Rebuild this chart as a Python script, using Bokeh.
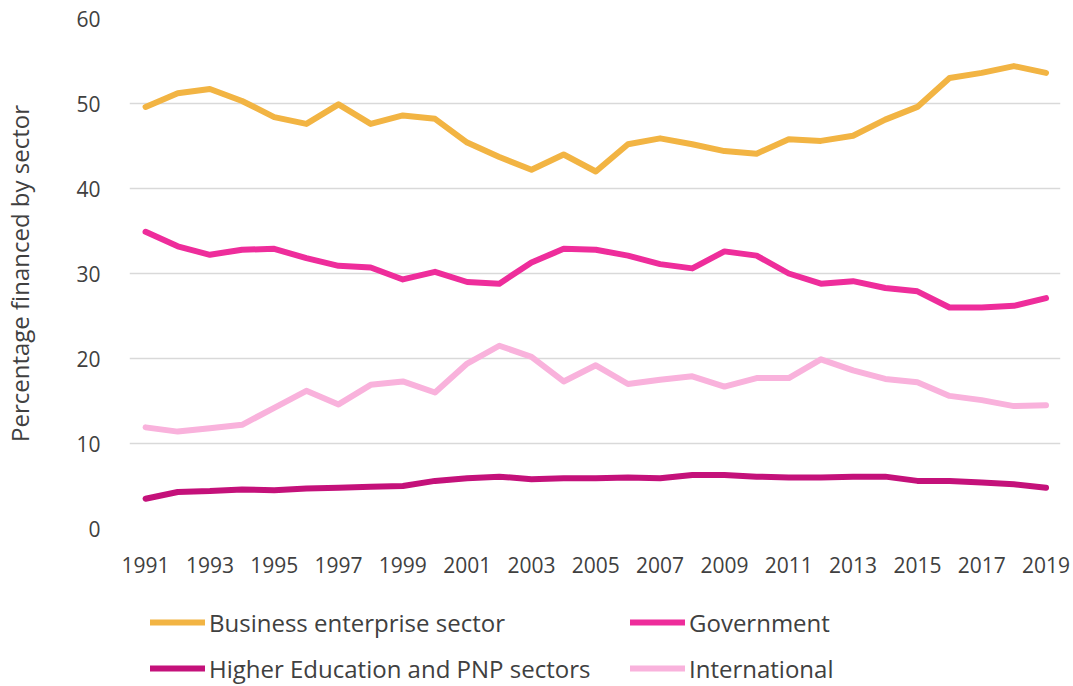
from bokeh.plotting import figure
from bokeh.models import Legend, LegendItem, FixedTicker, Range1d
from bokeh.layouts import column
from bokeh.embed import file_html
from bokeh.resources import INLINE

years = list(range(1991, 2020))
business = [49.6, 51.2, 51.7, 50.3, 48.4, 47.6, 49.9, 47.6, 48.6, 48.2, 45.4, 43.7, 42.2, 44.0, 42.0,
            45.2, 45.9, 45.2, 44.4, 44.1, 45.8, 45.6, 46.2, 48.1, 49.6, 53.0, 53.6, 54.4, 53.6]
government = [34.9, 33.2, 32.2, 32.8, 32.9, 31.8, 30.9, 30.7, 29.3, 30.2, 29.0, 28.8, 31.3, 32.9, 32.8,
              32.1, 31.1, 30.6, 32.6, 32.1, 30.0, 28.8, 29.1, 28.3, 27.9, 26.0, 26.0, 26.2, 27.1]
higher_ed = [3.5, 4.3, 4.4, 4.6, 4.5, 4.7, 4.8, 4.9, 5.0, 5.6, 5.9, 6.1, 5.8, 5.9, 5.9,
             6.0, 5.9, 6.3, 6.3, 6.1, 6.0, 6.0, 6.1, 6.1, 5.6, 5.6, 5.4, 5.2, 4.8]
international = [11.9, 11.4, 11.8, 12.2, 14.2, 16.2, 14.6, 16.9, 17.3, 16.0, 19.4, 21.5, 20.2, 17.3, 19.2,
                 17.0, 17.5, 17.9, 16.7, 17.7, 17.7, 19.9, 18.6, 17.6, 17.2, 15.6, 15.1, 14.4, 14.5]
x_ticks = list(range(1991, 2020, 2))
y_ticks = [0, 10, 20, 30, 40, 50, 60]
series_names = ["Business enterprise sector", "Government", "Higher Education and PNP sectors", "International"]
colors = ["#F2B443", "#EE2D9B", "#C4117A", "#F9B2DC"]
series = [business, government, higher_ed, international]

FONT = "Open Sans"
TXT = "#404040"

p = figure(width=1073, height=590, output_backend="svg", toolbar_location=None,
           x_range=Range1d(1990.5, 2019.45), y_range=Range1d(0, 60),
           min_border_left=129, min_border_right=13, min_border_top=18, min_border_bottom=62)
p.outline_line_color = None
p.background_fill_color = "white"

for ys, c in zip(series, colors):
    p.line(years, ys, line_color=c, line_width=6, line_cap="round", line_join="round")

p.xaxis.ticker = FixedTicker(ticks=x_ticks)
p.yaxis.ticker = FixedTicker(ticks=y_ticks)
for ax in (p.xaxis[0], p.yaxis[0]):
    ax.axis_line_color = None
    ax.major_tick_line_color = None
    ax.minor_tick_line_color = None
    ax.major_label_text_font = FONT
    ax.major_label_text_font_size = "21px"
    ax.major_label_text_color = TXT
p.xaxis.major_label_standoff = 22
p.yaxis.major_label_standoff = 23
p.yaxis.axis_label = "Percentage financed by sector"
p.yaxis.axis_label_text_font = FONT
p.yaxis.axis_label_text_font_size = "24px"
p.yaxis.axis_label_text_font_style = "normal"
p.yaxis.axis_label_text_color = TXT
p.yaxis.axis_label_standoff = 37

p.xgrid.grid_line_color = None
p.ygrid.grid_line_color = "#D9D9D9"
p.ygrid.grid_line_width = 1.5

# legend panel (series drawn off-view so only the legend shows)
lg = figure(width=1073, height=96, output_backend="svg", toolbar_location=None,
            x_range=Range1d(0, 1), y_range=Range1d(0, 1),
            min_border_left=0, min_border_right=0, min_border_top=0, min_border_bottom=0)
lg.axis.visible = False
lg.grid.visible = False
lg.outline_line_color = None
leg_renderers = []
for ys, c in zip(series, colors):
    r = lg.line(years, ys, line_color=c, line_width=6, line_cap="round")
    leg_renderers.append(r)

items = [LegendItem(label=n, renderers=[r]) for n, r in zip(series_names, leg_renderers)]
legend = Legend(items=items, orientation="horizontal", ncols=2,
                label_text_font=FONT, label_text_font_size="24px", label_text_color=TXT,
                glyph_width=55, glyph_height=20, label_standoff=4, label_width=411,
                spacing=10, padding=0, margin=0, border_line_color=None,
                background_fill_alpha=0, label_height=36,
                location=(21, 0))
lg.add_layout(legend, "center")

layout = column(p, lg, spacing=0)
open("out.html", "w").write(file_html(layout, INLINE))
